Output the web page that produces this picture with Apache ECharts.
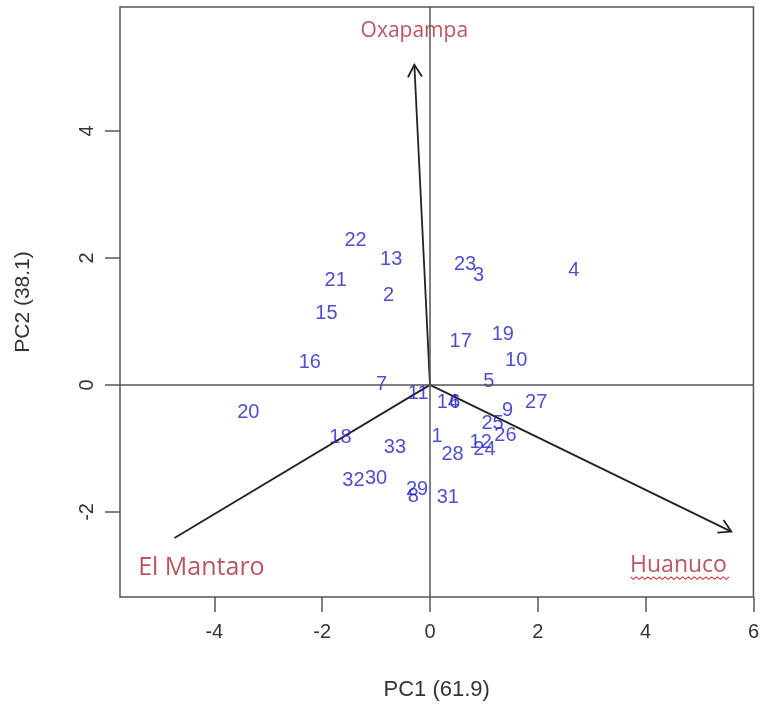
<!DOCTYPE html>
<html>
<head>
<meta charset="utf-8">
<script src="https://cdn.jsdelivr.net/npm/echarts@6/dist/echarts.min.js"></script>
<style>
html,body{margin:0;padding:0;background:#fff;}
#chart{width:762px;height:708px;}
</style>
</head>
<body>
<div id="chart"></div>
<script>
// Observation labels and scores (PC1, PC2)
const obsLabels = ['1','2','3','4','5','6','7','8','9','10','11','12','13','14','15','16','17','18','19','20','21','22','23','24','25','26','27','28','29','30','31','32','33'];
const obsPC1 = [0.13,-0.77,0.90,2.67,1.09,0.46,-0.90,-0.31,1.44,1.60,-0.22,0.94,-0.72,0.33,-1.92,-2.23,0.57,-1.66,1.35,-3.37,-1.75,-1.38,0.65,1.01,1.16,1.40,1.97,0.42,-0.24,-1.00,0.33,-1.42,-0.65];
const obsPC2 = [-0.82,1.40,1.73,1.80,0.06,-0.28,0.00,-1.76,-0.41,0.38,-0.14,-0.90,1.98,-0.28,1.12,0.35,0.68,-0.83,0.79,-0.43,1.65,2.28,1.89,-1.02,-0.60,-0.79,-0.28,-1.10,-1.64,-1.48,-1.78,-1.50,-0.99];

// Variable loadings (arrows) and their label positions
const varNames = ['Oxapampa','El Mantaro','Huanuco'];
const varPC1 = [-0.29,-4.74,5.59];
const varPC2 = [5.04,-2.41,-2.31];
const varLabelPC1 = [-0.29,-4.24,4.61];
const varLabelPC2 = [5.57,-2.88,-2.85];

// Axis ticks
const xTicks = [-4,-2,0,2,4,6];
const yTicks = [-2,0,2,4];
const xName = 'PC1 (61.9)';
const yName = 'PC2 (38.1)';

const axisTextColor = '#333';
const lineColor = '#555';
const ptColor = '#2222c4';
const varColor = '#a82a38';
const numFont = 'Liberation Sans, Arial, sans-serif';
const varFont = 'Open Sans, Noto Sans, sans-serif';

const chart = echarts.init(document.getElementById('chart'));

const obsData = obsLabels.map((l,i)=>[obsPC1[i], obsPC2[i], l]);
const arrowData = varNames.map((n,i)=>[varPC1[i], varPC2[i], i]);
const varLabelData = varNames.map((n,i)=>({value:[varLabelPC1[i], varLabelPC2[i], n],
  label:{fontSize: i===0 ? 21 : (i===1 ? 25 : 23)}}));

function renderArrow(params, api){
  const idx = api.value(2);
  const o = api.coord([0,0]);
  const e = api.coord([api.value(0), api.value(1)]);
  const children = [{
    type:'line',
    shape:{x1:o[0],y1:o[1],x2:e[0],y2:e[1]},
    style:{stroke:'#222',lineWidth:1.8}
  }];
  if (idx !== 1) {
    const ang = Math.atan2(e[1]-o[1], e[0]-o[0]);
    const L = 14, a = Math.PI/6;
    const p1 = [e[0]-L*Math.cos(ang-a), e[1]-L*Math.sin(ang-a)];
    const p2 = [e[0]-L*Math.cos(ang+a), e[1]-L*Math.sin(ang+a)];
    children.push({type:'polyline', shape:{points:[p1,e,p2]}, style:{stroke:'#222',lineWidth:1.8,fill:null}});
  }
  if (idx === 2) {
    // spell-check style wavy underline under the Huanuco label
    const c = api.coord([varLabelPC1[2], varLabelPC2[2]]);
    const pts = [];
    for (let k = 0; k <= 34; k++) {
      pts.push([c[0]-48 + k*2.9, c[1]+12 + (k%2 ? 1.5 : -1)]);
    }
    children.push({type:'polyline', shape:{points:pts}, style:{stroke:'#d03a40',lineWidth:1.1,fill:null}});
  }
  return {type:'group', children};
}

const option = {
  backgroundColor:'#fff',
  animation:false,
  grid:{left:120,right:6,top:7,bottom:111,show:true,borderColor:lineColor,borderWidth:1.5,backgroundColor:'transparent'},
  xAxis:{
    type:'value',min:-5.75,max:6,
    name:xName,nameLocation:'middle',nameGap:82,
    nameTextStyle:{color:axisTextColor,fontSize:22,fontFamily:numFont},
    axisLine:{show:false,onZero:false},
    splitLine:{show:false},
    axisTick:{show:true,inside:false,length:15,lineStyle:{color:lineColor,width:1.5},customValues:xTicks},
    axisLabel:{color:axisTextColor,fontSize:20,margin:25,fontFamily:numFont,customValues:xTicks,showMinLabel:true,showMaxLabel:true}
  },
  yAxis:{
    type:'value',min:-3.34,max:5.95,
    name:yName,nameLocation:'middle',nameGap:86,nameRotate:90,
    nameTextStyle:{color:axisTextColor,fontSize:21,fontFamily:numFont},
    axisLine:{show:false,onZero:false},
    splitLine:{show:false},
    axisTick:{show:true,inside:false,length:15,lineStyle:{color:lineColor,width:1.5},customValues:yTicks},
    axisLabel:{color:axisTextColor,fontSize:20,margin:23,rotate:90,fontFamily:numFont,customValues:yTicks}
  },
  series:[
    {
      type:'line',data:[],silent:true,
      markLine:{silent:true,symbol:['none','none'],label:{show:false},
        lineStyle:{color:lineColor,width:1.5,type:'solid'},
        data:[{xAxis:0},{yAxis:0}]}
    },
    {
      type:'custom',renderItem:renderArrow,data:arrowData,silent:true,z:3
    },
    {
      type:'scatter',data:obsData,symbolSize:1,itemStyle:{color:'rgba(0,0,0,0)'},silent:true,z:4,
      label:{show:true,position:'inside',formatter:p=>p.value[2],color:ptColor,fontSize:20,fontFamily:numFont},
      labelLayout:{hideOverlap:false}
    },
    {
      type:'scatter',data:varLabelData,symbolSize:1,itemStyle:{color:'rgba(0,0,0,0)'},silent:true,z:4,
      label:{show:true,position:'inside',formatter:p=>p.value[2],color:varColor,fontSize:20,fontFamily:varFont}
    }
  ]
};
chart.setOption(option);
</script>
</body>
</html>
